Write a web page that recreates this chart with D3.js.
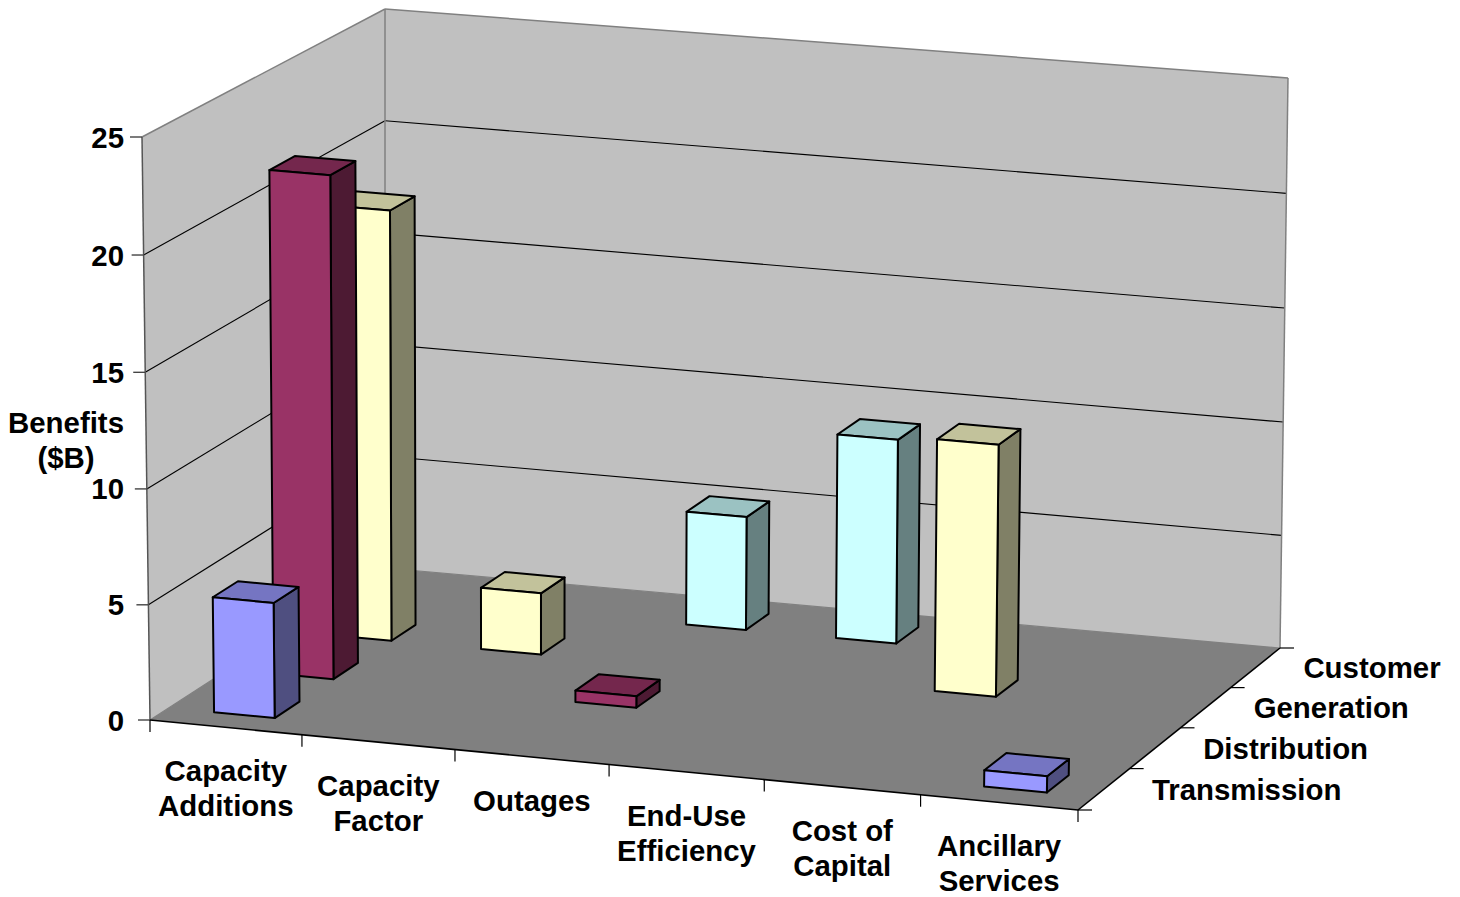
<!DOCTYPE html>
<html><head><meta charset="utf-8">
<script src="https://cdn.jsdelivr.net/npm/d3@7/dist/d3.min.js"></script>
<style>html,body{margin:0;padding:0;background:#fff}svg{display:block}
text{font-family:"Liberation Sans",Arial,sans-serif;font-weight:700;fill:#000;font-size:29.4px}</style>
</head><body><svg id="c" width="1460" height="897"></svg>
<script>
const categories = [["Capacity","Additions"],["Capacity","Factor"],["Outages"],["End-Use","Efficiency"],["Cost of","Capital"],["Ancillary","Services"]];
const seriesNames = ["Transmission","Distribution","Generation","Customer"];
const transmission = [5, null, null, null, null, 0.7];
const distribution = [21.9, null, 0.5, null, null, null];
const generation   = [18.9, 2.7, null, null, 11, null];
const customer     = [null, null, 5, 9, null, null];
const valueTicks = [0,5,10,15,20,25];
const frontColors = ["#9999FF","#993366","#FFFFCC","#CCFFFF"];
const topColors   = ["#7575C2","#74274D","#C2C29B","#9BC2C2"];
const sideColors  = ["#4F4F80","#4D1A33","#808066","#668080"];

const svg = d3.select("#c");
const catKeys = categories.map(c=>c.join(" "));
const xBand = d3.scaleBand().domain(catKeys).range([0,1]).paddingInner(.6).paddingOuter(.3);
const zBand = d3.scaleBand().domain(seriesNames).range([.005,1.005]).paddingInner(.58).paddingOuter(.29);
const yS = d3.scaleLinear().domain([0,25]).range([0,1]);
const warpK = k => u => u*k/(1+u*(k-1));
const warpX = warpK(.979), warpZ = warpK(1.03);
// screen positions of the plot box corners: [x][z][y]
const C = {
 "000":[150,720],"100":[1078,810],"010":[385,568],"110":[1280,648],
 "001":[142,137],"101":[1088,218],"011":[385,9],"111":[1288,78]};
const mix=(a,b,t)=>[a[0]+(b[0]-a[0])*t,a[1]+(b[1]-a[1])*t];
function P(u,w,v){ // u,w,v in 0..1
  u=warpX(u); w=warpZ(w);
  v=warpK(.985+.015*(1-u)*w)(v);
  const a=mix(C["000"],C["100"],u),b=mix(C["010"],C["110"],u),
        c=mix(C["001"],C["101"],u),d=mix(C["011"],C["111"],u);
  return mix(mix(a,b,w),mix(c,d,w),v);
}
const line=d3.line();
const poly=(pts,fill,stroke,sw)=>svg.append("path").attr("d",line(pts)+"Z").attr("fill",fill)
  .attr("stroke",stroke||"none").attr("stroke-width",sw||0).attr("stroke-linejoin","round");
const seg=(a,b,stroke,sw)=>svg.append("path").attr("d",line([a,b])).attr("stroke",stroke).attr("stroke-width",sw).attr("fill","none");

// walls and floor
poly([P(0,0,0),P(0,1,0),P(0,1,1),P(0,0,1)],"#C0C0C0");
poly([P(0,1,0),P(1,1,0),P(1,1,1),P(0,1,1)],"#C0C0C0");
poly([P(0,0,0),P(1,0,0),P(1,1,0),P(0,1,0)],"#808080");
// gridlines
valueTicks.slice(1,-1).forEach(t=>{
  const v=yS(t);
  seg(P(0,0,v),P(0,1,v),"#000",1.1);
  seg(P(0,1,v),P(1,1,v),"#000",1.1);
});
// wall outlines
seg(P(0,0,1),P(0,1,1),"#808080",1.5);
seg(P(0,1,1),P(1,1,1),"#808080",1.5);
seg(P(1,1,1),P(1,1,0),"#808080",1.5);
seg(P(0,1,1),P(0,1,0),"#808080",1.5);
seg(P(0,0,1),P(0,0,0),"#555",1.5);
seg(P(0,1,0),P(1,1,0),"#808080",1.2);
seg(P(0,0,0),P(0,1,0),"#808080",1.2);
// axes
seg(P(0,0,0),P(1,0,0),"#000",1.6);
seg(P(1,0,0),P(1,1,0),"#000",1.6);
// value axis ticks and labels
valueTicks.forEach(t=>{
  const p=P(0,0,yS(t));
  seg([p[0]-12,p[1]],p,"#444",1.4);
  svg.append("text").attr("x",124).attr("y",p[1]).attr("dy","0.36em").attr("text-anchor","end").text(t);
});
// category ticks and labels
d3.range(categories.length+1).forEach(i=>{
  const p=P(i/categories.length,0,0);
  seg(p,[p[0],p[1]+12],"#000",1.2);
});
categories.forEach((lines,i)=>{
  const u=(i+.5)/categories.length, p=P(u,0,0);
  lines.forEach((s,j)=>svg.append("text").attr("x",p[0]).attr("y",p[1]+54+j*35).attr("text-anchor","middle").text(s));
});
// depth ticks and labels
d3.range(seriesNames.length+1).forEach(i=>{
  const p=P(1,i/seriesNames.length,0);
  seg(p,[p[0]+14,p[1]],"#000",1.2);
});
seriesNames.forEach((s,i)=>{
  const w=(i+.5)/seriesNames.length,p=P(1,w,0);
  svg.append("text").attr("x",p[0]+48).attr("y",p[1]).attr("dy","0.36em").text(s);
});
// axis title
["Benefits","($B)"].forEach((s,i)=>svg.append("text").attr("x",66).attr("y",422+i*35).attr("dy","0.36em").attr("text-anchor","middle").text(s));

// bars, drawn back to front
const allSeries=[transmission,distribution,generation,customer];
d3.range(3,-1,-1).forEach(si=>{
  const z0=zBand(seriesNames[si]), z1=z0+zBand.bandwidth();
  allSeries[si].forEach((val,ci)=>{
    if(val==null) return;
    const u0=xBand(catKeys[ci]),u1=u0+xBand.bandwidth(),v=yS(val);
    poly([P(u1,z0,0),P(u1,z1,0),P(u1,z1,v),P(u1,z0,v)],sideColors[si],"#000",2);
    poly([P(u0,z0,v),P(u1,z0,v),P(u1,z1,v),P(u0,z1,v)],topColors[si],"#000",2);
    poly([P(u0,z0,0),P(u1,z0,0),P(u1,z0,v),P(u0,z0,v)],frontColors[si],"#000",2);
  });
});
</script></body></html>
